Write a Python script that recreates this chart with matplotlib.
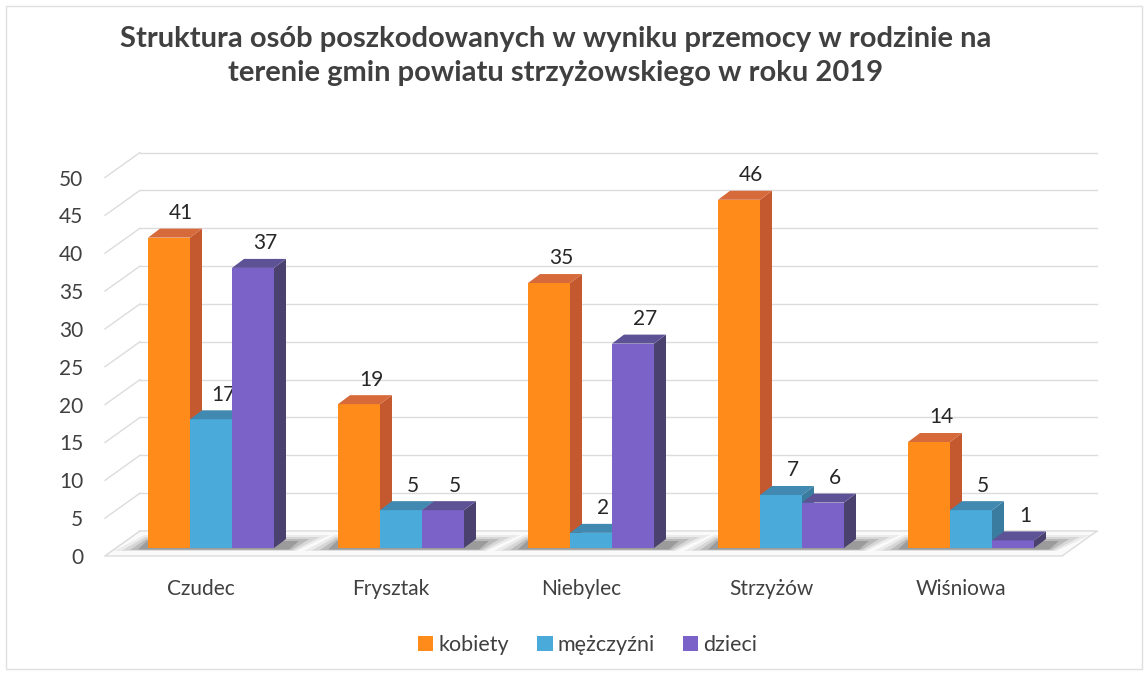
import matplotlib
matplotlib.use("Agg")
import matplotlib.pyplot as plt
from matplotlib.patches import Polygon, Patch, Rectangle
from matplotlib.transforms import ScaledTranslation

# ---------------- data ----------------
categories = ["Czudec", "Frysztak", "Niebylec", "Strzyżów", "Wiśniowa"]
series_names = ["kobiety", "mężczyźni", "dzieci"]
kobiety = [41, 19, 35, 46, 14]
mezczyzni = [17, 5, 2, 7, 5]
dzieci = [37, 5, 27, 6, 1]
y_ticks = [0, 5, 10, 15, 20, 25, 30, 35, 40, 45, 50]
title = "Struktura osób poszkodowanych w wyniku przemocy w rodzinie na\nterenie gmin powiatu strzyżowskiego w roku 2019"

series = [kobiety, mezczyzni, dzieci]
front_cols = ["#FF8C1A", "#4AABDB", "#7B62C9"]
side_cols = ["#C4582E", "#3A7CA0", "#4A416E"]
top_cols = ["#D66A3A", "#4189B0", "#5E5296"]

plt.rcParams['font.family'] = ['Lato', 'DejaVu Sans']
DPI = 100
W, H = 1148, 675
fig = plt.figure(figsize=(W / DPI, H / DPI), dpi=DPI)

# axes placement in pixels
ax_l, ax_r, ax_t, ax_b = 90, 1110, 150, 575
ax = fig.add_axes([ax_l / W, 1 - ax_b / H, (ax_r - ax_l) / W, (ax_b - ax_t) / H])
PXX = 190.0   # px per category
PXY = 7.57    # px per unit
c0 = 211      # px of first group centre
ax.set_xlim((ax_l - c0) / PXX, (ax_r - c0) / PXX)
ax.set_ylim(-(ax_b - 548) / PXY, (548 - ax_t) / PXY)

def px_x(p):
    return p / PXX

def px_y(p):
    return p / PXY

for s in ax.spines.values():
    s.set_visible(False)

# 3D geometry (in data units)
front_dx, front_dy = px_x(-10), px_y(-8)     # label / front plane offset
back_dx, back_dy = px_x(25), px_y(17)        # back wall offset
x_front_left = px_x(105 - c0)
x_back_left = x_front_left + px_x(35)
x_back_right = px_x(1097 - c0)
x_front_right = x_back_right - px_x(35)

grid_col = "#DCDCDC"
# back wall gridlines and left diagonal lines
for v in y_ticks:
    ax.plot([x_back_left, x_back_right], [v + back_dy, v + back_dy], color=grid_col, lw=1.0, zorder=1)
    ax.plot([x_front_left, x_back_left], [v + front_dy, v + back_dy], color=grid_col, lw=1.0, zorder=1)

# floor
floor = Polygon([(x_front_left, front_dy), (x_front_right, front_dy),
                 (x_back_right, back_dy), (x_back_left, back_dy)],
                closed=True, facecolor="#FAFAFA", edgecolor="#DCDCDC", lw=1.0, zorder=1)
ax.add_patch(floor)

bw = px_x(42)
dx, dy = px_x(12), px_y(9)
n = len(series)

# soft shadows under each group
for i in range(len(categories)):
    left = i - 1.5 * bw
    right = i + 1.5 * bw + dx
    for k, a in enumerate([0.08, 0.12, 0.18, 0.25]):
        ex = px_x(34 - 8 * k)
        sh = Polygon([(left - ex, px_y(-3 + 0.5 * k)), (right + ex * 0.3, px_y(-3 + 0.5 * k)),
                      (right + ex * 1.3, px_y(13 - 2 * k)), (left - ex * 0.1, px_y(13 - 2 * k))],
                     closed=True, facecolor="#404040", edgecolor="none", alpha=a, zorder=2)
        ax.add_patch(sh)

# bars
z = 3
for i in range(len(categories)):
    for j in range(n):
        v = series[j][i]
        xc = i + (j - 1) * bw
        x0, x1 = xc - bw / 2, xc + bw / 2
        ax.bar([xc], [v], width=bw, color=front_cols[j], edgecolor="none", zorder=z)
        side = Polygon([(x1, 0), (x1 + dx, dy), (x1 + dx, v + dy), (x1, v)],
                       closed=True, facecolor=side_cols[j], edgecolor="none", zorder=z)
        top = Polygon([(x0, v), (x1, v), (x1 + dx, v + dy), (x0 + dx, v + dy)],
                      closed=True, facecolor=top_cols[j], edgecolor="none", zorder=z)
        ax.add_patch(side)
        ax.add_patch(top)
        ax.annotate(str(v), xy=(xc + dx, v + dy), xytext=(0, 4), textcoords="offset points",
                    ha="center", va="bottom", fontsize=15, color="#262626", zorder=z + 1)
        z += 1

# ticks
ax.set_yticks(y_ticks)
ax.set_yticklabels([str(v) for v in y_ticks])
ax.set_xticks(range(len(categories)))
ax.set_xticklabels(categories)
ax.tick_params(axis="y", length=0, pad=5, labelsize=15, labelcolor="#404040")
ax.tick_params(axis="x", length=0, pad=3, labelsize=15, labelcolor="#404040")
for lab in ax.get_yticklabels():
    lab.set_transform(lab.get_transform() + ScaledTranslation(0, -8 / DPI, fig.dpi_scale_trans))
for lab in ax.get_xticklabels():
    lab.set_transform(lab.get_transform() + ScaledTranslation(-10 / DPI, 0, fig.dpi_scale_trans))

# title
fig.text(556 / W, 1 - 56 / H, title, ha="center", va="center", fontsize=21, fontweight="bold",
         color="#404040", linespacing=1.35)

# legend
handles = [Patch(facecolor=front_cols[j], edgecolor="none", label=series_names[j]) for j in range(n)]
fig.legend(handles=handles, loc="center", bbox_to_anchor=(588 / W, 1 - 645 / H), ncol=3,
           frameon=False, fontsize=15.5, handlelength=0.7, handleheight=0.7, handletextpad=0.25,
           columnspacing=1.3, labelcolor="#404040")

# chart border
fig.patches.append(Rectangle((6 / W, 6 / H), 1 - 12 / W, 1 - 12 / H, transform=fig.transFigure,
                             fill=False, edgecolor="#E0E0E0", lw=1))

fig.savefig("out.png", dpi=DPI)
